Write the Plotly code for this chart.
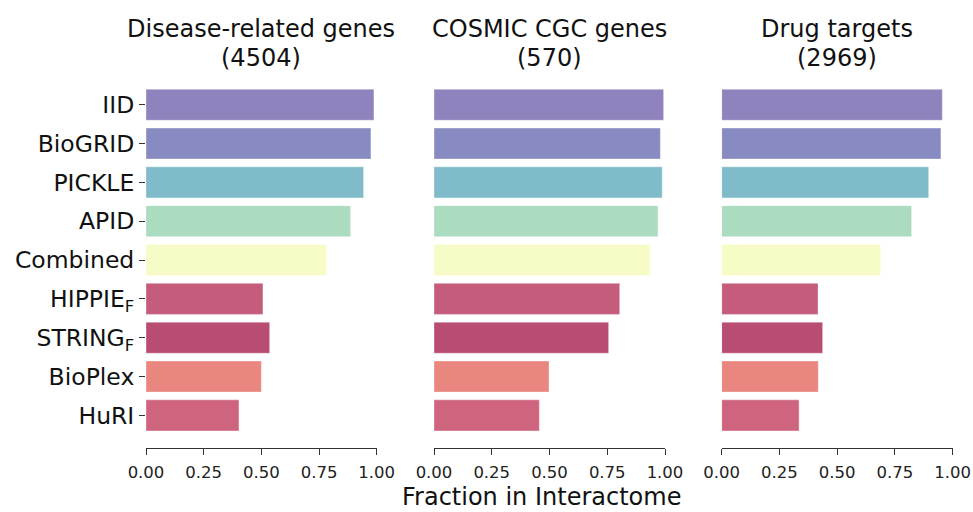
import plotly.graph_objects as go

categories = ["IID", "BioGRID", "PICKLE", "APID", "Combined",
              "HIPPIE<sub>F</sub>", "STRING<sub>F</sub>", "BioPlex", "HuRI"]
colors = ["#8f82bd", "#888bc2", "#7fbbc8", "#acdcbf", "#f7fbc6",
          "#c55c7b", "#b84c73", "#e9867f", "#cf647e"]

disease_vals = [0.988, 0.975, 0.943, 0.887, 0.783, 0.507, 0.536, 0.500, 0.403]
cosmic_vals = [0.994, 0.980, 0.988, 0.970, 0.935, 0.804, 0.756, 0.498, 0.456]
drug_vals = [0.955, 0.949, 0.896, 0.822, 0.688, 0.417, 0.437, 0.418, 0.335]

panel_titles = [("Disease-related genes", "(4504)"),
                ("COSMIC CGC genes", "(570)"),
                ("Drug targets", "(2969)")]
x_tickvals = [0, 0.25, 0.5, 0.75, 1.0]
x_ticktext = ["0.00", "0.25", "0.50", "0.75", "1.00"]

W, H = 973, 512
domains_px = [(146, 376.7), (434, 665), (721.7, 952.7)]
FONT = "DejaVu Sans"

fig = go.Figure()
series = [disease_vals, cosmic_vals, drug_vals]
for i, vals in enumerate(series):
    sfx = "" if i == 0 else str(i + 1)
    fig.add_trace(go.Bar(
        x=vals, y=categories, orientation="h",
        marker=dict(color=colors, line=dict(width=0.6, color="rgba(255,255,255,0.6)")),
        xaxis="x" + sfx, yaxis="y" + sfx, showlegend=False,
    ))

layout = dict(
    width=W, height=H,
    margin=dict(l=0, r=0, t=0, b=0, pad=0, autoexpand=False),
    paper_bgcolor="white", plot_bgcolor="white",
    bargap=0.2,
    font=dict(family=FONT, color="#1a1a1a"),
)
ytop, ybot = 72.1, 448
for i, (x0, x1) in enumerate(domains_px):
    sfx = "" if i == 0 else str(i + 1)
    layout["xaxis" + sfx] = dict(
        domain=[x0 / W, x1 / W], range=[0, 1.0], anchor="y" + sfx,
        tickvals=x_tickvals, ticktext=x_ticktext,
        ticks="outside", ticklen=6, tickwidth=1.2, tickcolor="#333333",
        ticklabelstandoff=3,
        showline=True, linecolor="#333333", linewidth=1.2,
        showgrid=False, zeroline=False, automargin=False,
        tickfont=dict(size=16.5, family=FONT, color="#222222"),
    )
    layout["yaxis" + sfx] = dict(
        domain=[1 - ybot / H, 1 - ytop / H], anchor="x" + sfx,
        type="category", categoryorder="array", categoryarray=categories,
        range=[8.84, -0.84], automargin=False,
        showgrid=False, zeroline=False, showline=False,
        ticks="outside" if i == 0 else "", ticklen=6, tickwidth=1.2, tickcolor="#333333",
        showticklabels=(i == 0),
        tickfont=dict(size=23.5, family=FONT, color="#111111"),
    )
fig.update_layout(**layout)

for i, (x0, x1) in enumerate(domains_px):
    cx = (x0 + x1) / 2 / W
    for j, line in enumerate(panel_titles[i]):
        fig.add_annotation(text=line, x=cx, y=1 - (28.5 + 29 * j) / H,
                           xref="paper", yref="paper", showarrow=False,
                           xanchor="center", yanchor="middle",
                           font=dict(size=24, family=FONT, color="#111111"))

fig.add_annotation(text="Fraction in Interactome", x=541 / W, y=0,
                   xref="paper", yref="paper", showarrow=False,
                   xanchor="center", yanchor="bottom", borderpad=0,
                   font=dict(size=24, family=FONT, color="#111111"))

fig.write_html("out.html")
